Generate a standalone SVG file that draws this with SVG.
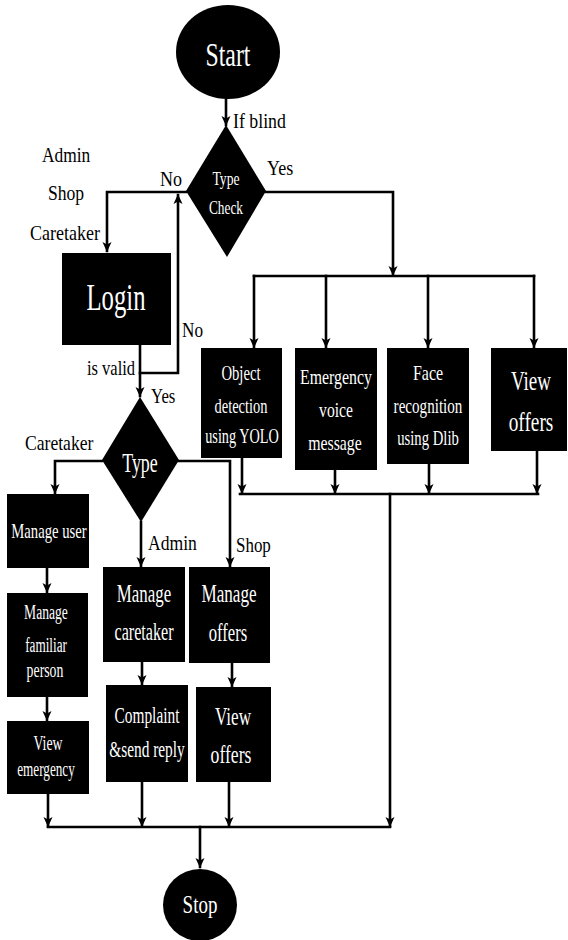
<svg xmlns="http://www.w3.org/2000/svg" width="568" height="940" viewBox="0 0 568 940">
  <style>
    .shape { fill: #000; }
    .in { fill: #fff; font-family: "Liberation Serif", "Times New Roman", serif; text-anchor: middle; }
    .lbl { fill: #000; font-family: "Liberation Serif", "Times New Roman", serif; font-size: 22px; }
    .wire { fill: none; stroke: #000; stroke-width: 2.6; stroke-linejoin: miter; stroke-linecap: square; }
    .arrow { marker-end: url(#head); }
  </style>
  <defs>
    <marker id="head" viewBox="0 -5 10 10" refX="9" refY="0" markerWidth="10" markerHeight="10" markerUnits="userSpaceOnUse" orient="auto">
      <path d="M0,-4.5 L10,0 L0,4.5 L2.5,0 z" fill="#000"/>
    </marker>
  </defs>

  <rect width="568" height="940" fill="#fff"/>

  <!-- connectors -->
  <g id="connectors">
    <path class="wire arrow" d="M226,98 V125"/>
    <path class="wire arrow" d="M186,192 H107 V251"/>
    <path class="wire arrow" d="M266,192 H393 V275"/>
    <path class="wire" d="M254,276 H534"/>
    <path class="wire arrow" d="M254,276 V347"/>
    <path class="wire arrow" d="M326,276 V347"/>
    <path class="wire arrow" d="M428,276 V347"/>
    <path class="wire arrow" d="M534,276 V347"/>
    <path class="wire arrow" d="M140,345 V396"/>
    <path class="wire arrow" d="M140,373 H178 V195"/>
    <path class="wire arrow" d="M102,461 H55 V493"/>
    <path class="wire arrow" d="M178,461 H230 V566"/>
    <path class="wire arrow" d="M141,522 V566"/>
    <path class="wire arrow" d="M47,568 V592"/>
    <path class="wire arrow" d="M47,697 V720"/>
    <path class="wire arrow" d="M142,662 V684"/>
    <path class="wire arrow" d="M232,663 V686"/>
    <path class="wire arrow" d="M242,458 V493"/>
    <path class="wire arrow" d="M335,470 V493"/>
    <path class="wire arrow" d="M429,464 V493"/>
    <path class="wire arrow" d="M537,451 V493"/>
    <path class="wire" d="M240,494 H538"/>
    <path class="wire arrow" d="M390,494 V826"/>
    <path class="wire arrow" d="M48,794 V826"/>
    <path class="wire arrow" d="M142,781 V826"/>
    <path class="wire arrow" d="M229,783 V826"/>
    <path class="wire" d="M48,827 H390"/>
    <path class="wire arrow" d="M200,827 V867"/>
  </g>

  <!-- branch labels (condensed serif) -->
  <g id="labels">
    <text class="lbl" transform="translate(233,128) scale(0.81,1)">If blind</text>
    <text class="lbl" transform="translate(42,162) scale(0.79,1)">Admin</text>
    <text class="lbl" transform="translate(48,200) scale(0.8,1)">Shop</text>
    <text class="lbl" transform="translate(30,240) scale(0.82,1)">Caretaker</text>
    <text class="lbl" transform="translate(160,186) scale(0.82,1)">No</text>
    <text class="lbl" transform="translate(267,175) scale(0.82,1)">Yes</text>
    <text class="lbl" transform="translate(182,337) scale(0.78,1)">No</text>
    <text class="lbl" transform="translate(87,375) scale(0.75,1)">is valid</text>
    <text class="lbl" transform="translate(151,403) scale(0.76,1)">Yes</text>
    <text class="lbl" transform="translate(25,450) scale(0.8,1)">Caretaker</text>
    <text class="lbl" transform="translate(148,550) scale(0.8,1)">Admin</text>
    <text class="lbl" transform="translate(236,552) scale(0.77,1)">Shop</text>
  </g>

  <g id="start">
    <ellipse class="shape" cx="228" cy="52" rx="52" ry="47"/>
    <text class="in" font-size="34" transform="translate(228,66) scale(0.7,1)">Start</text>
  </g>

  <g id="type-check">
    <polygon class="shape" points="226,125 266,191 227,257 186,191"/>
    <text class="in" font-size="18" transform="translate(226,185) scale(0.76,1)">Type</text>
    <text class="in" font-size="18" transform="translate(226,214) scale(0.74,1)">Check</text>
  </g>

  <g id="login">
    <rect class="shape" x="62" y="253" width="109" height="92"/>
    <text class="in" font-size="38" transform="translate(116,310) scale(0.65,1)">Login</text>
  </g>

  <g id="object-detection">
    <rect class="shape" x="201" y="348" width="81" height="110"/>
    <text class="in" font-size="21" transform="translate(241,380) scale(0.7,1)">Object</text>
    <text class="in" font-size="21" transform="translate(241,413) scale(0.69,1)">detection</text>
    <text class="in" font-size="21" transform="translate(242,443) scale(0.68,1)">using YOLO</text>
  </g>

  <g id="emergency-voice">
    <rect class="shape" x="295" y="348" width="82" height="122"/>
    <text class="in" font-size="22" transform="translate(336,384) scale(0.72,1)">Emergency</text>
    <text class="in" font-size="22" transform="translate(336,417) scale(0.71,1)">voice</text>
    <text class="in" font-size="22" transform="translate(335,450) scale(0.72,1)">message</text>
  </g>

  <g id="face-recognition">
    <rect class="shape" x="387" y="348" width="82" height="116"/>
    <text class="in" font-size="21" transform="translate(428,380) scale(0.76,1)">Face</text>
    <text class="in" font-size="21" transform="translate(428,413) scale(0.72,1)">recognition</text>
    <text class="in" font-size="21" transform="translate(428,445) scale(0.7,1)">using Dlib</text>
  </g>

  <g id="view-offers-blind">
    <rect class="shape" x="491" y="348" width="76" height="103"/>
    <text class="in" font-size="28" transform="translate(531,390) scale(0.68,1)">View</text>
    <text class="in" font-size="28" transform="translate(531,431) scale(0.69,1)">offers</text>
  </g>

  <g id="type">
    <polygon class="shape" points="140,397 179,460 141,522 102,460"/>
    <text class="in" font-size="28" transform="translate(140,472) scale(0.64,1)">Type</text>
  </g>

  <g id="manage-user">
    <rect class="shape" x="7" y="494" width="82" height="74"/>
    <text class="in" font-size="21" transform="translate(49,538) scale(0.7,1)">Manage user</text>
  </g>

  <g id="manage-familiar">
    <rect class="shape" x="7" y="593" width="81" height="104"/>
    <text class="in" font-size="20" transform="translate(46,619) scale(0.68,1)">Manage</text>
    <text class="in" font-size="20" transform="translate(46,652) scale(0.66,1)">familiar</text>
    <text class="in" font-size="20" transform="translate(45,677) scale(0.69,1)">person</text>
  </g>

  <g id="view-emergency">
    <rect class="shape" x="7" y="721" width="82" height="73"/>
    <text class="in" font-size="20" transform="translate(48,750) scale(0.69,1)">View</text>
    <text class="in" font-size="20" transform="translate(46,776) scale(0.66,1)">emergency</text>
  </g>

  <g id="manage-caretaker">
    <rect class="shape" x="103" y="567" width="82" height="95"/>
    <text class="in" font-size="26" transform="translate(144,602) scale(0.65,1)">Manage</text>
    <text class="in" font-size="26" transform="translate(144,640) scale(0.62,1)">caretaker</text>
  </g>

  <g id="complaint-reply">
    <rect class="shape" x="106" y="685" width="82" height="97"/>
    <text class="in" font-size="24" transform="translate(147,723) scale(0.64,1)">Complaint</text>
    <text class="in" font-size="24" transform="translate(147,757) scale(0.64,1)">&amp;send reply</text>
  </g>

  <g id="manage-offers">
    <rect class="shape" x="189" y="567" width="81" height="96"/>
    <text class="in" font-size="26" transform="translate(229,602) scale(0.66,1)">Manage</text>
    <text class="in" font-size="26" transform="translate(228,641) scale(0.64,1)">offers</text>
  </g>

  <g id="view-offers-shop">
    <rect class="shape" x="196" y="687" width="75" height="95"/>
    <text class="in" font-size="26" transform="translate(233,725) scale(0.66,1)">View</text>
    <text class="in" font-size="26" transform="translate(231,763) scale(0.68,1)">offers</text>
  </g>

  <g id="stop">
    <ellipse class="shape" cx="200" cy="905" rx="37" ry="36"/>
    <text class="in" font-size="26" transform="translate(200,913) scale(0.73,1)">Stop</text>
  </g>
</svg>
